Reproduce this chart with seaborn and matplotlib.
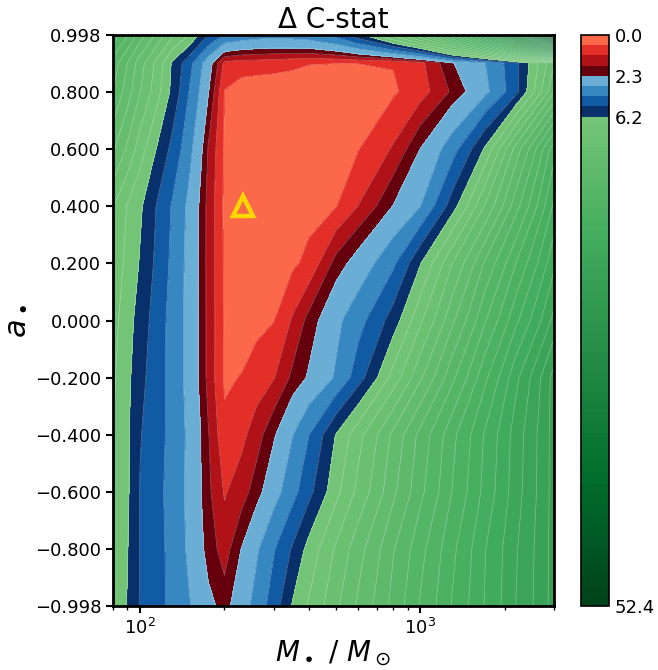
import numpy as np
import matplotlib
matplotlib.use("Agg")
import matplotlib.pyplot as plt
import seaborn as sns

# ---- grid ----
mass = [80, 90, 100, 115, 130, 150, 175, 200, 230, 260, 300, 350, 400, 500,
        600, 800, 1000, 1300, 1700, 2200, 3000]
spin = [-0.998, -0.8, -0.6, -0.4, -0.2, 0.0, 0.2, 0.4, 0.6, 0.8, 0.9, 0.998]

# Delta C-stat per spin row (columns follow `mass`)
dc_a_m0998 = [7.0, 6.15, 5.15, 4.55, 4.01, 3.33, 2.50, 2.05, 2.82, 3.63, 4.76, 6.3, 7.27, 8.9, 10.2, 12.3, 14.0, 15.9, 17.8, 19.7, 22.0]
dc_a_m080 = [7.0, 6.25, 5.18, 4.56, 3.95, 3.07, 2.04, 1.45, 2.33, 3.14, 4.18, 5.35, 6.57, 8.28, 9.68, 11.9, 13.6, 15.6, 17.7, 19.6, 22.0]
dc_a_m060 = [7.1, 6.35, 5.17, 4.51, 3.89, 3.00, 1.85, 1.10, 1.46, 2.03, 2.89, 3.94, 4.95, 6.9, 8.4, 10.8, 12.7, 14.9, 17.1, 19.3, 22.0]
dc_a_m040 = [7.2, 6.35, 5.28, 4.59, 3.95, 3.04, 1.77, 0.70, 1.00, 1.46, 2.21, 3.25, 4.24, 6.25, 7.8, 10.3, 12.3, 14.6, 16.9, 19.2, 22.0]
dc_a_m020 = [7.3, 6.45, 5.50, 4.64, 3.91, 2.91, 1.55, 0.50, 0.60, 0.84, 1.12, 1.87, 2.40, 3.39, 4.79, 7.55, 9.9, 12.7, 15.6, 18.5, 22.0]
dc_a_000 = [7.5, 6.6, 5.76, 4.72, 3.91, 2.91, 1.55, 0.53, 0.30, 0.42, 0.56, 1.23, 1.93, 3.05, 3.90, 5.69, 7.94, 10.8, 13.8, 16.6, 20.0]
dc_a_020 = [7.75, 6.9, 6.11, 4.96, 4.04, 2.91, 1.53, 0.49, 0.15, 0.18, 0.32, 0.48, 0.73, 1.95, 2.67, 4.07, 6.14, 9.07, 12.1, 14.9, 18.5]
dc_a_040 = [8.2, 7.1, 6.35, 5.14, 4.17, 3.00, 1.53, 0.46, 0.02, 0.08, 0.18, 0.29, 0.38, 0.55, 1.16, 2.32, 3.25, 5.73, 9.15, 12.6, 17.0]
dc_a_060 = [10.2, 8.9, 7.6, 6.10, 4.96, 3.55, 1.68, 0.51, 0.15, 0.12, 0.15, 0.25, 0.33, 0.45, 0.55, 1.22, 2.31, 3.84, 6.31, 10.5, 15.5]
dc_a_080 = [12.0, 10.5, 9.1, 7.5, 5.94, 4.19, 2.35, 0.55, 0.30, 0.22, 0.20, 0.22, 0.25, 0.30, 0.38, 0.50, 0.90, 1.83, 3.03, 4.95, 10.0]
dc_a_090 = [12.5, 11.0, 9.5, 7.8, 6.09, 4.55, 2.69, 1.00, 0.85, 0.85, 0.80, 0.70, 0.60, 0.58, 0.58, 0.60, 1.00, 2.25, 3.25, 5.00, 9.0]
dc_a_0998 = [14.5, 13.0, 11.5, 9.8, 8.3, 7.1, 5.2, 4.2, 3.9, 3.7, 3.6, 3.7, 3.85, 4.6, 5.9, 8.5, 11.0, 16.0, 22.0, 32.0, 52.4]

best_mass = 233
best_spin = 0.40

red_levels = [0.0, 0.575, 1.15, 1.725, 2.3]
blue_levels = [2.3, 3.275, 4.25, 5.225, 6.2]
green_min, green_max, n_green = 6.2, 52.4, 48
cbar_ticks = [0.0, 2.3, 6.2, 52.4]
ytick_vals = [-0.998, -0.8, -0.6, -0.4, -0.2, 0.0, 0.2, 0.4, 0.6, 0.8, 0.998]

# ---- figure ----
sns.set_style("ticks")
plt.rcParams["font.family"] = ["DejaVu Sans"]
for k in ["text.color", "axes.labelcolor", "xtick.color", "ytick.color", "axes.edgecolor"]:
    plt.rcParams[k] = "black"

Z = np.array([dc_a_m0998, dc_a_m080, dc_a_m060, dc_a_m040, dc_a_m020, dc_a_000,
              dc_a_020, dc_a_040, dc_a_060, dc_a_080, dc_a_090, dc_a_0998])
X, Y = np.meshgrid(np.array(mass, float), np.array(spin, float))

green_levels = list(np.linspace(green_min, green_max, n_green + 1))
levels = red_levels + blue_levels[1:] + green_levels[1:]

reds = sns.color_palette("Reds", as_cmap=True)(np.linspace(0.5, 1.0, 4))
blues = sns.color_palette("Blues", as_cmap=True)(np.linspace(0.5, 1.0, 4))
greens = sns.color_palette("Greens", as_cmap=True)(np.linspace(0.5, 1.0, n_green))
colors = list(reds) + list(blues) + list(greens)

fig = plt.figure(figsize=(6.58, 6.70), dpi=100)
ax = fig.add_axes([113 / 658, 1 - 606 / 670, (554 - 113) / 658, (606 - 35) / 670])
cax = fig.add_axes([581 / 658, 1 - 606 / 670, 28 / 658, (606 - 35) / 670])

cf = ax.contourf(X, Y, Z, levels=levels, colors=colors)
ax.contour(X, Y, Z, levels=levels[1:-1], colors="white", linewidths=0.5, alpha=0.35)

ax.plot(best_mass, best_spin, marker="^", ms=15, mfc="none", mec="#FFD700", mew=3.2, ls="none")

ax.set_xscale("log")
ax.set_xlim(min(mass), max(mass))
ax.set_ylim(min(spin), max(spin))
ax.set_yticks(ytick_vals)
ax.set_yticklabels([f"{v:.3f}".replace("-", "\u2212") for v in ytick_vals])
ax.tick_params(axis="both", which="major", labelsize=13, length=5, width=1.5, color="black")
ax.tick_params(axis="x", which="minor", length=3, width=1.0, color="black")
for sp in ax.spines.values():
    sp.set_linewidth(2)
    sp.set_color("black")

ax.set_title("\u0394 C-stat", fontsize=20, pad=5)
ax.set_xlabel(r"$M_\bullet\ /\ M_\odot$", fontsize=20, labelpad=0)
ax.set_ylabel(r"$a_\bullet$", fontsize=22)

cb = fig.colorbar(cf, cax=cax, ticks=cbar_ticks)
cb.ax.invert_yaxis()
cb.ax.set_yticklabels([f"{t:.1f}" for t in cbar_ticks])
cb.ax.tick_params(labelsize=13, length=0, pad=4)
cb.outline.set_linewidth(1.2)
cb.outline.set_edgecolor("black")

fig.savefig("out.png", dpi=100)
